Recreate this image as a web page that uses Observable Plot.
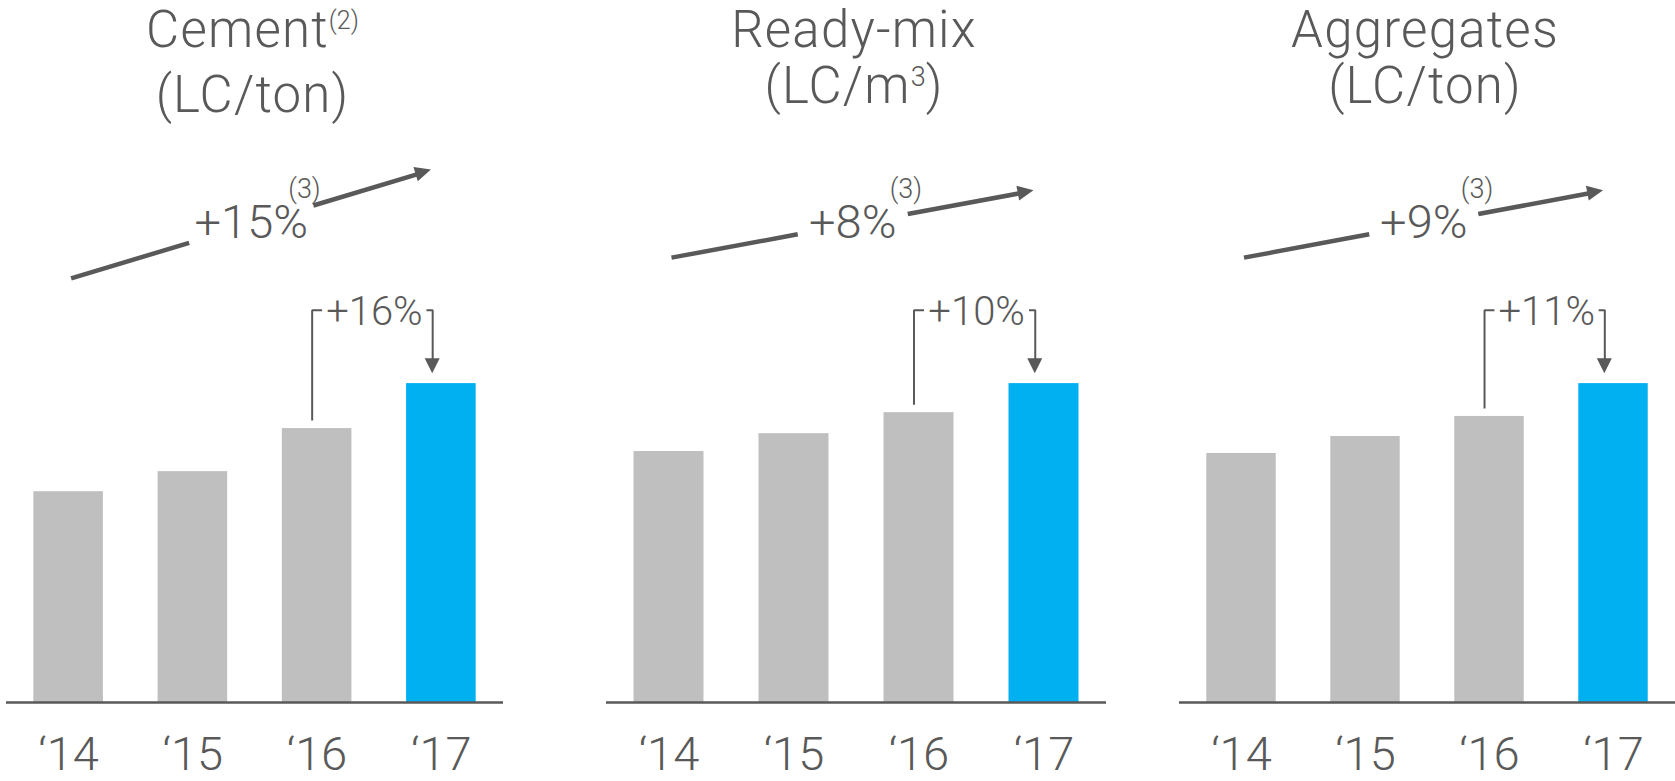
<!DOCTYPE html>
<html>
<head>
<meta charset="utf-8">
<script src="https://cdn.jsdelivr.net/npm/d3@7"></script>
<script src="https://cdn.jsdelivr.net/npm/@observablehq/plot@0.6"></script>
<style>
  html, body { margin: 0; padding: 0; background: #ffffff; }
  #chart {
    position: relative; width: 1675px; height: 781px; overflow: hidden;
    font-family: Roboto, "Noto Sans", sans-serif; font-weight: 300; color: #595959;
  }
  .panel-title {
    position: absolute; top: 2px; text-align: center; white-space: nowrap;
    font-size: 51px; line-height: 56px; letter-spacing: 1.2px;
  }
  .panel-title .note { font-size: 25px; position: relative; top: -18px; letter-spacing: 0; }
  .panel-title .pow { font-size: 27px; position: relative; top: -17px; letter-spacing: 0; }
  .panel-plot { position: absolute; top: 128px; }
</style>
</head>
<body>
<div id="chart"></div>
<script>
// ---- data -------------------------------------------------------------
const years = [2014, 2015, 2016, 2017];
const yearLabels = ["‘14", "‘15", "‘16", "‘17"];

const products = ["Cement", "Ready-mix", "Aggregates"];
const productNotes = ["(2)", "", ""];
const unitBase = ["LC/ton", "LC/m", "LC/ton"];
const unitPower = ["", "3", ""];

// local-currency price index per product (2017 = 100)
const cementPrice = [66.1, 72.4, 85.9, 100];
const readyMixPrice = [78.7, 84.3, 90.9, 100];
const aggregatesPrice = [78.1, 83.4, 89.7, 100];

const cagrLabels = ["+15%", "+8%", "+9%"];
const cagrNote = "(3)";
const yoyLabels = ["+16%", "+10%", "+11%"];

// ---- styling & layout -------------------------------------------------
const INK = "#595959";
const GRAY = "#BFBFBF";
const BLUE = "#00B0F0";
const BAR_HALF = 0.28;          // half bar width, in years
const PLOT_HEIGHT = 653;

const panelLayout = [
  {left: 0,    width: 530, marginLeft: 6,  marginRight: 27, rise: 34, gap: 0.50},
  {left: 560,  width: 570, marginLeft: 46, marginRight: 24, rise: 21, gap: 0.44},
  {left: 1130, width: 545, marginLeft: 49, marginRight: 0,  rise: 21, gap: 0.44}
];

// filled triangular arrowheads, placed through the plot's own scales
function arrowHeads(heads, {length = 15, width = 15, fill = INK} = {}) {
  return (index, scales) => {
    const g = d3.create("svg:g").attr("fill", fill);
    for (const h of heads) {
      const tx = scales.x(h.x), ty = scales.y(h.y);
      const fx = scales.x(h.fromX), fy = scales.y(h.fromY);
      const a = Math.atan2(ty - fy, tx - fx);
      const ux = Math.cos(a), uy = Math.sin(a);
      const bx = tx - ux * length, by = ty - uy * length;
      const px = -uy * width / 2, py = ux * width / 2;
      g.append("path").attr("d", `M${tx},${ty}L${bx + px},${by + py}L${bx - px},${by - py}Z`);
    }
    return g.node();
  };
}

function drawPanel(i, values) {
  const L = panelLayout[i];
  const chart = document.getElementById("chart");
  const rows = years.map((year, k) => ({year, value: values[k]}));
  const n = years.length;
  const last = years[n - 1], prev = years[n - 2];
  const vLast = values[n - 1], vPrev = values[n - 2];

  // title
  const title = document.createElement("div");
  title.className = "panel-title";
  title.style.left = (L.left + L.marginLeft - 2) + "px";
  title.style.width = (L.width - L.marginLeft - L.marginRight) + "px";
  title.innerHTML =
    products[i] + (productNotes[i] ? `<span class="note">${productNotes[i]}</span>` : "") +
    "<br>(" + unitBase[i] + (unitPower[i] ? `<span class="pow">${unitPower[i]}</span>` : "") + ")";
  chart.appendChild(title);

  // compound-growth arrow across the period (value units on y, years on x)
  const ax0 = years[0] + 0.02, ax1 = last - 0.08, aMid = 150;
  const ay0 = aMid - L.rise / 2, ay1 = aMid + L.rise / 2;
  const along = x => ay0 + (x - ax0) / (ax1 - ax0) * (ay1 - ay0);
  const axm = (ax0 + ax1) / 2, gap = L.gap;
  const shaftEnd = ax1 - 0.07;
  const cagrSegments = [
    {x1: ax0, y1: ay0, x2: axm - gap, y2: along(axm - gap)},
    {x1: axm + gap, y1: along(axm + gap), x2: shaftEnd, y2: along(shaftEnd)}
  ];

  // year-over-year bracket from the previous bar to the last one
  const xL = prev - 0.04, xR = last - 0.07, yB = 123;
  const tipY = vLast + 3.1;
  const bracket = [
    {piece: 0, x: xL, y: vPrev + 2.5},
    {piece: 0, x: xL, y: yB},
    {piece: 0, x: xL + 0.08, y: yB},
    {piece: 1, x: xR - 0.05, y: yB},
    {piece: 1, x: xR, y: yB},
    {piece: 1, x: xR, y: tipY + 2.5}
  ];

  const svg = Plot.plot({
    width: L.width,
    height: PLOT_HEIGHT,
    marginLeft: L.marginLeft,
    marginRight: L.marginRight,
    marginTop: 0,
    marginBottom: 79,
    x: {type: "linear", domain: [years[0] - 0.5, last + 0.5], label: null},
    y: {domain: [0, 180], axis: null, label: null},
    style: {fontFamily: "Roboto, 'Noto Sans', sans-serif", fontWeight: 300, color: INK, background: "transparent", overflow: "visible"},
    marks: [
      Plot.rectY(rows, {
        filter: d => d.year !== last,
        x1: d => d.year - BAR_HALF, x2: d => d.year + BAR_HALF, y: "value", fill: GRAY
      }),
      Plot.rectY(rows, {
        filter: d => d.year === last,
        x1: d => d.year - BAR_HALF, x2: d => d.year + BAR_HALF, y: "value", fill: BLUE
      }),
      Plot.ruleY([0], {stroke: INK, strokeWidth: 2.5}),
      Plot.axisX({
        ticks: years,
        tickFormat: d => yearLabels[years.indexOf(d)],
        tickSize: 0, tickPadding: 34, fontSize: 47, label: null, fill: INK
      }),
      // compound annual growth
      Plot.link(cagrSegments, {x1: "x1", y1: "y1", x2: "x2", y2: "y2", stroke: INK, strokeWidth: 4.5}),
      arrowHeads([{x: ax1, y: ay1, fromX: ax0, fromY: ay0}], {length: 16, width: 15}),
      Plot.text([{x: axm, y: aMid}], {x: "x", y: "y", text: () => cagrLabels[i], fontSize: 47, dy: -1.5, fill: INK}),
      Plot.text([{x: axm, y: aMid}], {x: "x", y: "y", text: () => cagrNote, fontSize: 27, textAnchor: "start", dx: 37, dy: -35, fill: INK}),
      // year-over-year growth
      Plot.line(bracket, {x: "x", y: "y", z: "piece", stroke: INK, strokeWidth: 2, strokeLinejoin: "miter", strokeLinecap: "butt"}),
      arrowHeads([{x: xR, y: tipY, fromX: xR, fromY: yB}], {length: 15, width: 15}),
      Plot.text([{x: (xL + xR) / 2, y: yB}], {x: "x", y: "y", text: () => yoyLabels[i], fontSize: 40, dx: 2, dy: 2, fill: INK})
    ]
  });

  const holder = document.createElement("div");
  holder.className = "panel-plot";
  holder.style.left = L.left + "px";
  holder.style.width = L.width + "px";
  holder.appendChild(svg);
  chart.appendChild(holder);
}

drawPanel(0, cementPrice);
drawPanel(1, readyMixPrice);
drawPanel(2, aggregatesPrice);
</script>
</body>
</html>
